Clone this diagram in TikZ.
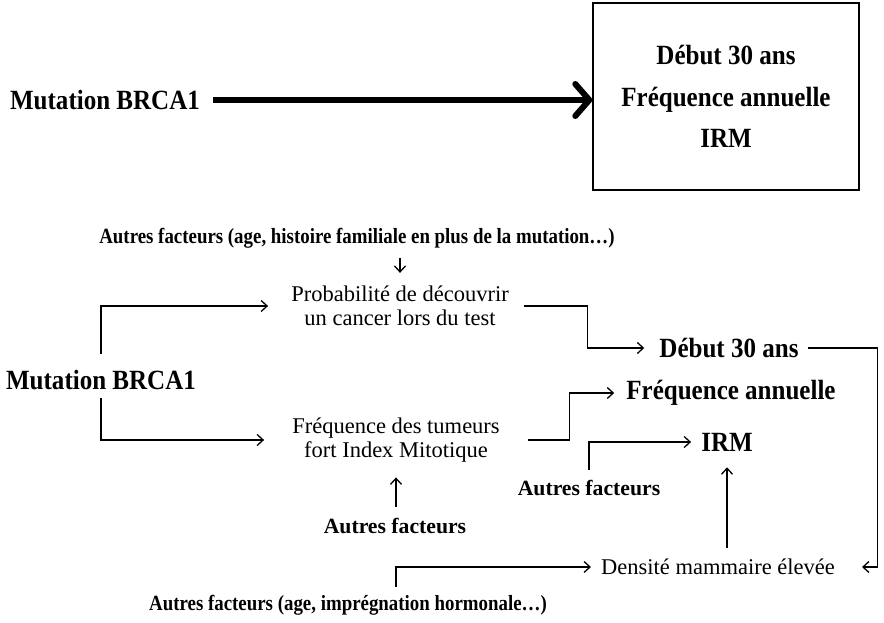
\documentclass[tikz,border=0pt]{standalone}
\usepackage{fontspec}
\setmainfont{Liberation Serif}
\newfontfamily\narrowserif[FakeStretch=0.9]{Liberation Serif}
\newfontfamily\tightserif[FakeStretch=0.87]{Liberation Serif}
\usetikzlibrary{arrows.meta, positioning}
\tikzset{
  keyterm/.style={font=\narrowserif\bfseries\fontsize{27.8}{41.5}\selectfont, inner sep=0pt, align=center},
  factor/.style={font=\bfseries\fontsize{21.7}{24}\selectfont, inner sep=0pt},
  longfactor/.style={font=\tightserif\bfseries\fontsize{21.7}{24}\selectfont, inner sep=0pt},
  effect/.style={font=\fontsize{22.5}{24}\selectfont, inner sep=0pt, align=center},
  summary/.style={rectangle, draw=black, line width=1.4pt, minimum width=266pt, minimum height=187pt,
    font=\narrowserif\bfseries\fontsize{27.8}{41.5}\selectfont, align=center},
  link/.style={-{Straight Barb[length=6pt,width=11pt]}, line width=1.3pt},
  fatlink/.style={-{Straight Barb[length=14pt,width=32pt,round]}, line width=6pt},
}
\begin{document}
\begin{tikzpicture}[x=1pt, y=-1pt]
  \useasboundingbox (0,0) rectangle (884,623);
  % top: direct recommendation
  \node[keyterm] (mutA) at (105,100) {Mutation BRCA1};
  \node[summary] (plan) at (726,96.5) {Début 30 ans\\Fréquence annuelle\\IRM};
  \draw[fatlink, shorten <=13pt] (mutA.east) -- (mutA.east -| plan.west);

  % bottom: detailed reasoning
  \node[longfactor] (ageA) at (357,238) {Autres facteurs (age, histoire familiale en plus de la mutation…)};
  \node[effect] (prob) at (400,306) {Probabilité de découvrir\\un cancer lors du test};
  \node[keyterm] (mutB) at (101,380) {Mutation BRCA1};
  \node[effect] (tum) at (396,440) {Fréquence des tumeurs\\fort Index Mitotique};
  \node[factor] (otherA) at (395,526) {Autres facteurs};
  \node[keyterm] (start) at (729,348) {Début 30 ans};
  \node[keyterm] (freq) at (731,393) {Fréquence annuelle};
  \node[keyterm] (irm) at (727,442) {IRM};
  \node[factor] (otherB) at (589,488) {Autres facteurs};
  \node[effect] (dens) at (718,567) {Densité mammaire élevée};
  \node[longfactor] (ageB) at (348,605) {Autres facteurs (age, imprégnation hormonale…)};

  \draw[link, shorten <=10pt, shorten >=13pt] (prob.north |- ageA.south) -- (prob.north);
  \draw[link, shorten <=16pt, shorten >=23pt] (mutB.north) |- (prob.west);
  \draw[link, shorten <=8pt, shorten >=28pt] (mutB.south) |- (tum.west);
  \draw[link] ([xshift=15pt]prob.east) -| ([xshift=-72pt]start.west) -- ([xshift=-15pt]start.west);
  \draw[link] ([xshift=9pt]start.east) -- ++(70,0) |- ([xshift=27pt]dens.east);
  \draw[link] ([xshift=28pt]tum.east) -| ([xshift=-57pt]freq.west) -- ([xshift=-12pt]freq.west);
  \draw[link, shorten <=10pt, shorten >=10pt] (otherB.north) |- (irm.west);
  \draw[link, shorten <=11pt, shorten >=16pt] (irm.south |- dens.north) -- (irm.south);
  \draw[link, shorten <=11pt, shorten >=15pt] (tum.south |- otherA.north) -- (tum.south);
  \draw[link, shorten <=8pt, shorten >=10pt] ([xshift=48pt]ageB.north) |- (dens.west);
\end{tikzpicture}
\end{document}
